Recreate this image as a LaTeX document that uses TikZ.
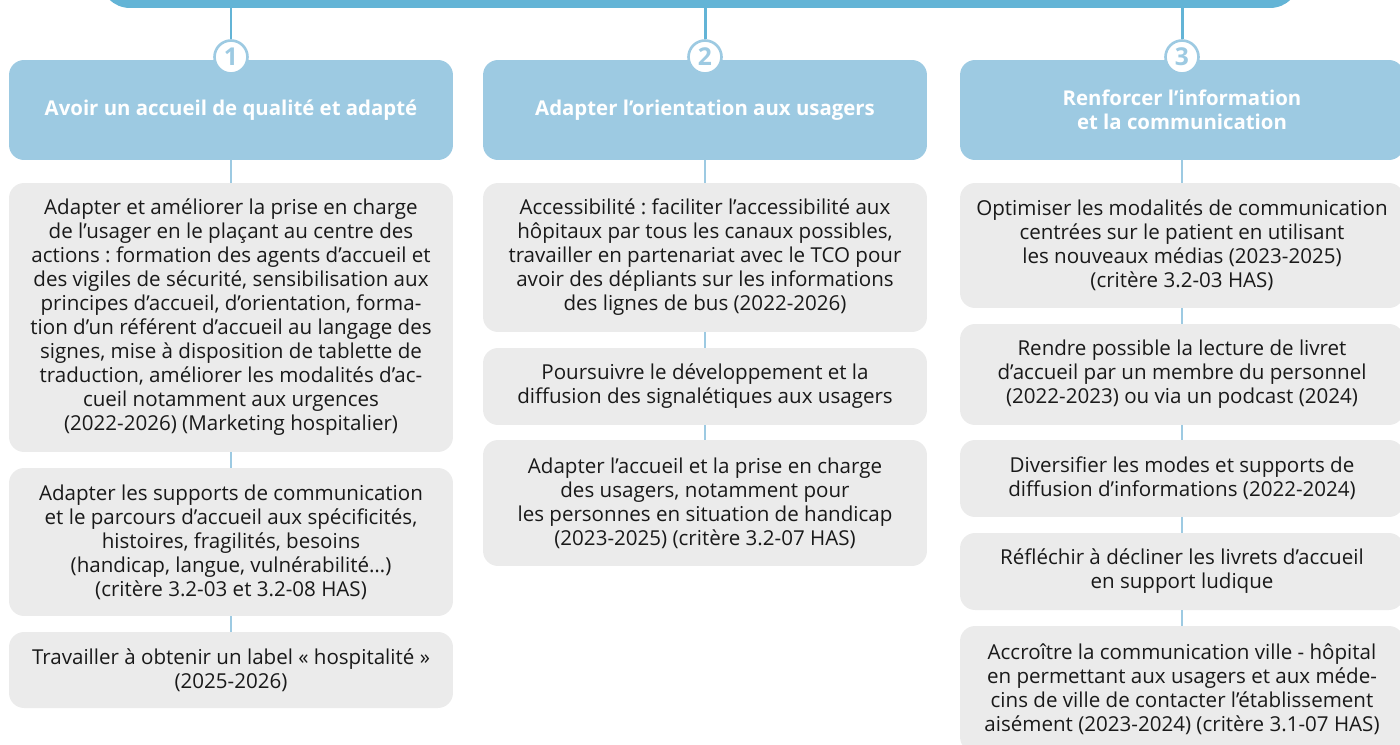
\documentclass[tikz,border=0pt]{standalone}
\usepackage{fontspec}
\setmainfont{Open Sans}
\usepackage{xcolor}
\usetikzlibrary{positioning}
\definecolor{BannerBlue}{RGB}{99, 180, 214}
\definecolor{HeadBlue}{RGB}{157, 202, 226}
\definecolor{BoxGray}{RGB}{235, 235, 235}
\definecolor{TextDark}{RGB}{25, 25, 25}
\frenchspacing

\begin{document}
\begin{tikzpicture}[x=0.02cm,y=-0.02cm,
	head/.style={rectangle,rounded corners=0.3cm,fill=HeadBlue,minimum width=8.88cm,minimum height=2cm,
		text=white,align=center,font=\bfseries\fontsize{11.6}{13.6}\selectfont},
	item/.style={rectangle,rounded corners=0.3cm,fill=BoxGray,minimum width=8.88cm,inner sep=0pt,
		text=TextDark,align=center,font=\fontsize{11.7}{13.65}\selectfont},
	num/.style={circle,draw=HeadBlue,line width=1.5pt,fill=white,minimum size=0.66cm,inner sep=0pt,
		text=HeadBlue,font=\bfseries\fontsize{14}{14}\selectfont},
	stem/.style={BannerBlue,line width=1.7pt},
	link/.style={HeadBlue,line width=1.5pt}]
\useasboundingbox (0,0) rectangle (1400,744);
\clip (0,0) rectangle (1400,744);
\node[rectangle,rounded corners=0.6cm,fill=BannerBlue,minimum width=24cm,minimum height=1.36cm] (top) at (700,-26){};
% axes
\node[head] (H1) at (231,110) {Avoir un accueil de qualité et adapté};
\node[head] (H2) at (705,110) {Adapter l’orientation aux usagers};
\node[head] (H3) at (1182,110) {Renforcer l’information\\et la communication};
\foreach \i/\x in {1/231,2/705,3/1182}{
	\node[num] (N\i) at (\x,57) {\i};
	\draw[stem] (N\i |- top.south) -- (N\i);
}
% actions, axe 1
\node[item,minimum height=5.38cm] (A1) at (231,317.5) {Adapter et améliorer la prise en charge\\de l’usager en le plaçant au centre des\\actions : formation des agents d’accueil et\\des vigiles de sécurité, sensibilisation aux\\principes d’accueil, d’orientation, forma-\\tion d’un référent d’accueil au langage des\\signes, mise à disposition de tablette de\\traduction, améliorer les modalités d’ac-\\cueil notamment aux urgences\\(2022-2026) (Marketing hospitalier)};
\node[item,minimum height=2.96cm] (A2) at (231,542) {Adapter les supports de communication\\et le parcours d’accueil aux spécificités,\\histoires, fragilités, besoins\\(handicap, langue, vulnérabilité…)\\(critère 3.2-03 et 3.2-08 HAS)};
\node[item,minimum height=1.52cm] (A3) at (231,670) {Travailler à obtenir un label « hospitalité »\\(2025-2026)};
% actions, axe 2
\node[item,minimum height=2.98cm] (B1) at (705,257.5) {Accessibilité : faciliter l’accessibilité aux\\hôpitaux par tous les canaux possibles,\\travailler en partenariat avec le TCO pour\\avoir des dépliants sur les informations\\des lignes de bus (2022-2026)};
\node[item,minimum height=1.54cm] (B2) at (705,386.5) {Poursuivre le développement et la\\diffusion des signalétiques aux usagers};
\node[item,minimum height=2.52cm] (B3) at (705,503) {Adapter l’accueil et la prise en charge\\des usagers, notamment pour\\les personnes en situation de handicap\\(2023-2025) (critère 3.2-07 HAS)};
% actions, axe 3
\node[item,minimum height=2.5cm] (C1) at (1182,245.5) {Optimiser les modalités de communication\\centrées sur le patient en utilisant\\les nouveaux médias (2023-2025)\\(critère 3.2-03 HAS)};
\node[item,minimum height=2.02cm] (C2) at (1182,374.5) {Rendre possible la lecture de livret\\d’accueil par un membre du personnel\\(2022-2023) ou via un podcast (2024)};
\node[item,minimum height=1.54cm] (C3) at (1182,478.5) {Diversifier les modes et supports de\\diffusion d’informations (2022-2024)};
\node[item,minimum height=1.54cm] (C4) at (1182,571.5) {Réfléchir à décliner les livrets d’accueil\\en support ludique};
\node[item,minimum height=2.52cm] (C5) at (1182,689) {Accroître la communication ville - hôpital\\en permettant aux usagers et aux méde-\\cins de ville de contacter l’établissement\\aisément (2023-2024) (critère 3.1-07 HAS)};
\foreach \a/\b in {H1/A1,A1/A2,A2/A3,H2/B1,B1/B2,B2/B3,H3/C1,C1/C2,C2/C3,C3/C4,C4/C5}
	\draw[link] (\a) -- (\b);
\end{tikzpicture}
\end{document}
